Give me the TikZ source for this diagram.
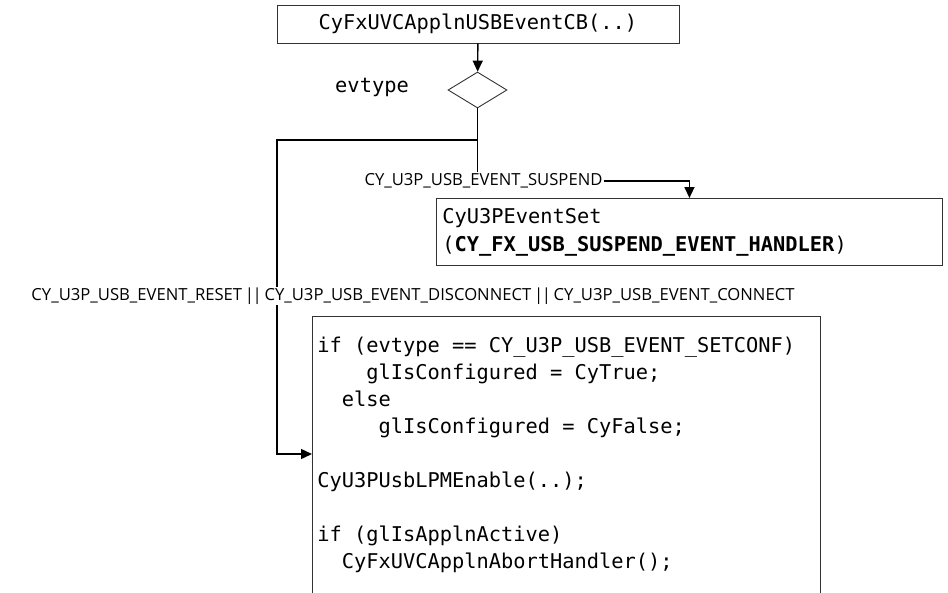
\documentclass[tikz,border=0pt]{standalone}
\usepackage{fontspec}
\setmainfont{Open Sans}
\setmonofont{DejaVu Sans Mono}
\usetikzlibrary{shapes.geometric}
\usetikzlibrary{arrows.meta}

\newcommand\codefont{\ttfamily\fontsize{20.35}{26.9}\selectfont}
\newcommand\labelfont{\rmfamily\fontsize{16.65}{20}\selectfont}
\newcommand\orbar{\,|\kern-1.5pt|\,}

\begin{document}
\begin{tikzpicture}[x=1pt, y=-1pt,
box/.style={draw=black!80, line width=0.9pt, font=\codefont, align=left,
  execute at begin node={\spaceskip=\fontdimen2\font\xspaceskip=\fontdimen2\font}},
flow/.style={black, line width=1.4pt},
arrow/.style={flow, -{Triangle[length=11pt,width=10pt]}},
evlabel/.style={font=\labelfont, inner sep=1pt}]

\useasboundingbox (0,0) rectangle (948,592);
\clip (0,0) rectangle (948,592);

\def\gap{26.9pt}

% CALLBACK AND SWITCH
\node[box, minimum width=402pt, minimum height=38pt] (usbcb) at (478,24) {CyFxUVCApplnUSBEventCB(..)};
\node[draw=black!80, line width=0.9pt, diamond, minimum width=59pt, minimum height=36pt, inner sep=0pt] (evtype) at (477.5,90) {};
\node[font=\codefont] (evname) at (372,87) {evtype};

% suspend branch
\node[evlabel] (suspend) at (483.5,181) {CY\_U3P\_USB\_EVENT\_SUSPEND};
\node[box, anchor=north west, text width=494pt, inner xsep=6pt, minimum height=67pt,
font=\codefont\fontsize{20.35}{28}\selectfont] (suspendset) at (436,198)
{CyU3PEventSet\\(\textbf{CY\_FX\_USB\_SUSPEND\_EVENT\_HANDLER})};

% reset / connect branch
\coordinate (branch) at (evtype.south |- 0,140);
\coordinate (leftturn) at (277,140);
\coordinate (resetturn) at (277,454);
\node[box, anchor=north west, text width=498pt, inner xsep=5pt, inner ysep=21pt] (configbox) at (312,316)
{if (evtype == CY\_U3P\_USB\_EVENT\_SETCONF)\\
\phantom{0000}glIsConfigured = CyTrue;\\
\phantom{00}else\\
\phantom{00000}glIsConfigured = CyFalse;\\[\gap]
CyU3PUsbLPMEnable(..);\\[\gap]
if (glIsApplnActive)\\
\phantom{00}CyFxUVCApplnAbortHandler();};

% connectors
\draw[arrow] (usbcb) -- (evtype);
\draw[flow] (evtype) -- (evtype.south |- suspend.north);
\draw[arrow] (suspend) -| (suspendset.north);
\draw[arrow] (branch) -- (leftturn) -- (resetturn) -- (resetturn -| configbox.west);

\node[evlabel, fill=white] (resetlabel) at (413,296)
{CY\_U3P\_USB\_EVENT\_RESET\orbar CY\_U3P\_USB\_EVENT\_DISCONNECT\orbar CY\_U3P\_USB\_EVENT\_CONNECT};

\end{tikzpicture}
\end{document}
